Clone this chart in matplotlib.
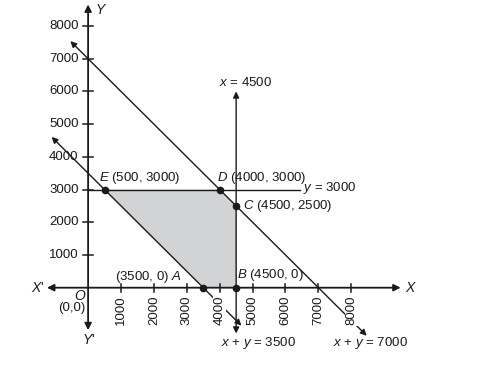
import matplotlib.pyplot as plt

plt.switch_backend('agg')
plt.rcParams['font.family'] = ['Liberation Sans', 'DejaVu Sans']
plt.rcParams['mathtext.fontset'] = 'custom'
plt.rcParams['mathtext.rm'] = 'Liberation Sans'
plt.rcParams['mathtext.it'] = 'Liberation Sans:italic'

# tick values on both axes
x_ticks = [1000, 2000, 3000, 4000, 5000, 6000, 7000, 8000]
y_ticks = [1000, 2000, 3000, 4000, 5000, 6000, 7000, 8000]

# feasible region corners A, B, C, D, E
region_x = [3500, 4500, 4500, 4000, 500]
region_y = [0, 0, 2500, 3000, 3000]

# corner labels
corner_labels = [r'(3500, 0) $A$', r'$B$ (4500, 0)', r'$C$ (4500, 2500)',
                 r'$D$ (4000, 3000)', r'$E$ (500, 3000)']

fig = plt.figure(figsize=(4.97, 3.76), dpi=100)
ax = fig.add_axes([0, 0, 1, 1])
ax.set_xlim(-2678, 12429)
ax.set_ylim(-2700, 8796)
ax.axis('off')

ink = '#1a1a1a'
fs = 9.5

def arrow(x0, y0, x1, y1, style='-|>', lw=1.0, ms=9):
    ax.annotate('', xy=(x1, y1), xytext=(x0, y0),
                arrowprops=dict(arrowstyle=style, color=ink, lw=lw,
                                shrinkA=0, shrinkB=0,
                                mutation_scale=ms), zorder=3)

# shaded feasible region
ax.fill(region_x, region_y, color='#d2d3d5', zorder=1, lw=0)

# axes with arrows on both ends
arrow(-1250, 0, 9500, 0, style='<|-|>', lw=1.3, ms=10)
arrow(0, -1300, 0, 8660, style='<|-|>', lw=1.3, ms=10)

# ticks
for t in x_ticks:
    ax.plot([t, t], [-120, 120], color=ink, lw=1.1, zorder=3)
    ax.text(t, -250, str(t), rotation=90, ha='center', va='top', fontsize=fs,
            color=ink, zorder=5,
            bbox=dict(facecolor='white', edgecolor='none', pad=0.3))
for t in y_ticks:
    ax.plot([-150, 150], [t, t], color=ink, lw=1.1, zorder=3)
    ax.text(-290, t, str(t), ha='right', va='center', fontsize=fs, color=ink)

# constraint lines
arrow(-540, 7540, 8470, -1470, style='<|-|>')
arrow(-1110, 4610, 4660, -1160, style='<|-|>')
arrow(4500, -1400, 4500, 6000, style='<|-|>')
ax.plot([0, 6430], [3000, 3000], color=ink, lw=1.0, zorder=3)

# corner points
ax.plot(region_x, region_y, 'o', color=ink, ms=4.5, zorder=6)

ax.text(2860, 320, corner_labels[0], ha='right', va='center', fontsize=fs, color=ink)
ax.text(4540, 390, corner_labels[1], ha='left', va='center', fontsize=fs, color=ink)
ax.text(4720, 2510, corner_labels[2], ha='left', va='center', fontsize=fs, color=ink)
ax.text(3930, 3345, corner_labels[3], ha='left', va='center', fontsize=fs, color=ink)
ax.text(340, 3345, corner_labels[4], ha='left', va='center', fontsize=fs, color=ink)

# line labels
ax.text(6540, 3040, r'$y$ = 3000', ha='left', va='center', fontsize=fs, color=ink)
ax.text(4784, 6270, r'$x$ = 4500', ha='center', va='center', fontsize=fs, color=ink)
ax.text(5190, -1690, r'$x$ + $y$ = 3500', ha='center', va='center', fontsize=fs, color=ink)
ax.text(8595, -1700, r'$x$ + $y$ = 7000', ha='center', va='center', fontsize=fs, color=ink)

# axis names
ax.text(-1320, 0, "$X$'", ha='right', va='center', fontsize=fs + 0.5, color=ink)
ax.text(9620, 0, '$X$', ha='left', va='center', fontsize=fs + 0.5, color=ink)
ax.text(200, 8490, '$Y$', ha='left', va='center', fontsize=fs + 0.5, color=ink)
ax.text(0, -1600, "$Y$'", ha='center', va='center', fontsize=fs + 0.5, color=ink)
ax.text(-240, -250, '$O$', ha='center', va='center', fontsize=fs + 0.5, color=ink)
ax.text(-90, -630, '(0,0)', ha='right', va='center', fontsize=fs, color=ink)

plt.savefig('out.png', dpi=100)
